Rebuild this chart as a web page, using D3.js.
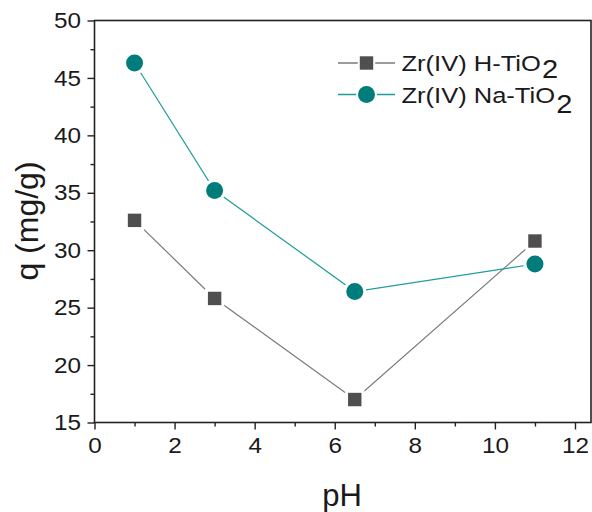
<!DOCTYPE html>
<html>
<head>
<meta charset="utf-8">
<script src="https://cdn.jsdelivr.net/npm/d3@7"></script>
<style>
  body { margin: 0; background: #fff; }
  text { font-family: "Liberation Sans", Arial, sans-serif; fill: #1a1a1a; }
</style>
</head>
<body>
<div id="chart"></div>
<script>
const width = 592, height = 512;
const margin = {top: 20.5, right: 1, bottom: 89.5, left: 94.5};

// data
const ph = [1, 3, 6.5, 11];
const qH = [32.6, 25.8, 17.0, 30.8];
const qNa = [46.3, 35.2, 26.4, 28.8];
const seriesNames = ["Zr(IV) H-TiO", "Zr(IV) Na-TiO"];
const xTicks = [0, 2, 4, 6, 8, 10, 12];
const yTicks = [15, 20, 25, 30, 35, 40, 45, 50];

let svg = d3.select("#chart")
    .append("svg")
    .attr("width", width)
    .attr("height", height);

let w = width - margin.left - margin.right;
let h = height - margin.top - margin.bottom;

let g = svg.append("g")
    .attr("transform", `translate(${margin.left}, ${margin.top})`);

let x = d3.scaleLinear().domain([0, 12.4]).range([0, w]);
let y = d3.scaleLinear().domain([15, 50]).range([h, 0]);

// frame
g.append("rect")
    .attr("width", w).attr("height", h)
    .attr("fill", "none")
    .attr("stroke", "#222")
    .attr("stroke-width", 1.6);

// minor ticks
g.append("g")
    .attr("transform", `translate(0, ${h})`)
    .call(d3.axisBottom(x).tickValues([1, 3, 5, 7, 9, 11]).tickSize(4).tickFormat(""))
    .call(a => a.select(".domain").remove());
g.append("g")
    .call(d3.axisLeft(y).tickValues(yTicks.slice(0, -1).map(v => v + 2.5)).tickSize(4).tickFormat(""))
    .call(a => a.select(".domain").remove());

// major ticks
let xAxis = g.append("g")
    .attr("transform", `translate(0, ${h})`)
    .call(d3.axisBottom(x).tickValues(xTicks).tickSize(7).tickPadding(8));
let yAxis = g.append("g")
    .call(d3.axisLeft(y).tickValues(yTicks).tickSize(7).tickPadding(6));

[xAxis, yAxis].forEach(a => {
    a.select(".domain").remove();
    a.selectAll("text")
        .style("font-size", "22.5px")
        .attr("fill", "#1a1a1a")
        .attr("transform", "scale(1.08,1)");
});
yAxis.selectAll("text").attr("x", -12.5);
g.selectAll(".tick line").attr("stroke", "#222").attr("stroke-width", 1.4);

// axis titles
svg.append("text")
    .attr("x", 342)
    .attr("y", 506)
    .attr("text-anchor", "middle")
    .style("font-size", "31px")
    .text("pH");

svg.append("text")
    .attr("transform", `translate(38, 221) rotate(-90)`)
    .attr("text-anchor", "middle")
    .style("font-size", "32px")
    .text("q (mg/g)");

const series = [
    {name: seriesNames[0], vals: qH, line: "#7a7a7a", fill: "#4f4f4f", shape: d3.symbolSquare, size: 180, sub: 7},
    {name: seriesNames[1], vals: qNa, line: "#1f9c9c", fill: "#007d7a", shape: d3.symbolCircle, size: 227, sub: 10}
];

let line = d3.line().x(d => x(d[0])).y(d => y(d[1]));

series.forEach(s => {
    let pts = ph.map((p, i) => [p, s.vals[i]]);
    g.append("path")
        .datum(pts)
        .attr("fill", "none")
        .attr("stroke", s.line)
        .attr("stroke-width", 1.2)
        .attr("d", line);
    g.selectAll(null)
        .data(pts)
        .enter()
        .append("path")
        .attr("transform", d => `translate(${x(d[0])}, ${y(d[1])})`)
        .attr("d", d3.symbol().type(s.shape).size(s.size))
        .attr("fill", s.fill)
        .attr("stroke", "#fff")
        .attr("stroke-width", 6)
        .style("paint-order", "stroke fill");
});

// legend
let legend = svg.append("g");
series.forEach((s, i) => {
    let ly = 63 + i * 31.5;
    legend.append("line")
        .attr("x1", 338).attr("x2", 395)
        .attr("y1", ly).attr("y2", ly)
        .attr("stroke", s.line).attr("stroke-width", 1.5);
    legend.append("path")
        .attr("transform", `translate(366.5, ${ly})`)
        .attr("d", d3.symbol().type(s.shape).size(s.size))
        .attr("fill", s.fill)
        .attr("stroke", "#fff")
        .attr("stroke-width", 4)
        .style("paint-order", "stroke fill");
    let t = legend.append("text")
        .attr("transform", `translate(401.5, ${ly + 8}) scale(1.16,1)`)
        .style("font-size", "22px");
    t.append("tspan").text(s.name);
    t.append("tspan").attr("dy", s.sub).attr("dx", 1).style("font-size", "25px").text("2");
});
</script>
</body>
</html>
